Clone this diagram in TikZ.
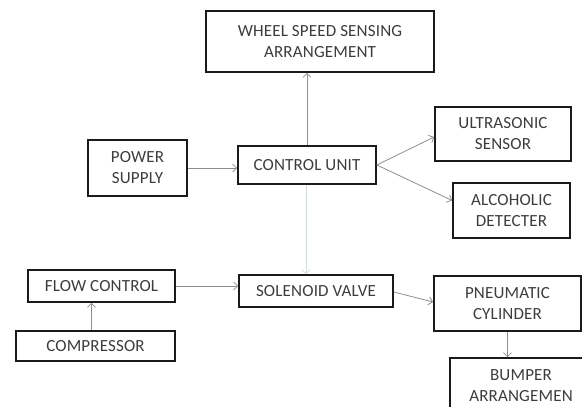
\documentclass[tikz,border=0pt]{standalone}
\usepackage{fontspec}
\setmainfont{Carlito}[LetterSpace=1]
\usetikzlibrary{arrows.meta}
\definecolor{txtc}{HTML}{3C3C3C}
\definecolor{boxc}{HTML}{1A1A1A}
\definecolor{linec}{HTML}{8E8E8E}
\definecolor{palec}{HTML}{CFDCDC}
\tikzset{
  blk/.style={draw=boxc, line width=1.7pt, rectangle, inner sep=0pt, align=center,
    text=txtc, font=\fontsize{17}{21}\selectfont},
  conn/.style={draw=linec, line width=0.8pt, -{Straight Barb[length=4pt,width=8pt]}},
}
\begin{document}
\begin{tikzpicture}[x=1pt,y=-1pt]
\useasboundingbox (0,0) rectangle (582,407);
\clip (0,0) rectangle (582,407);
\node[blk, minimum width=228pt, minimum height=61pt] (wheel) at (320,41.5) {WHEEL SPEED SENSING\\ARRANGEMENT};
\node[blk, minimum width=99pt, minimum height=56pt] (power) at (137.5,168) {POWER\\SUPPLY};
\node[blk, minimum width=138pt, minimum height=38pt] (control) at (307,165) {CONTROL UNIT};
\node[blk, minimum width=136pt, minimum height=54pt] (ultra) at (503,134) {ULTRASONIC\\SENSOR};
\node[blk, minimum width=117pt, minimum height=55pt] (alco) at (511.5,210.5) {ALCOHOLIC\\DETECTER};
\node[blk, minimum width=147pt, minimum height=32pt] (flow) at (101.5,286) {FLOW CONTROL};
\node[blk, minimum width=159pt, minimum height=30pt] (comp) at (95.5,346) {COMPRESSOR};
\node[blk, minimum width=154pt, minimum height=32pt] (sol) at (316,291) {SOLENOID VALVE};
\node[blk, minimum width=147pt, minimum height=55pt] (pneu) at (507.5,303.5) {PNEUMATIC\\CYLINDER};
\node[blk, minimum width=142pt, minimum height=56pt] (bump) at (521,386) {BUMPER\\ARRANGEMEN};

\draw[conn] (power.east) -- (control.west |- power.east);
\draw[conn] (control.north) -- (control.north |- wheel.south);
\draw[conn] (control.east) -- ([yshift=-3pt]ultra.west);
\draw[conn] (control.east) -- ([yshift=10pt]alco.west);
\draw[conn, draw=palec] ([xshift=-1pt]control.south) -- ([xshift=-1pt]control.south |- sol.north);
\draw[conn] (flow.east) -- (flow.east -| sol.west);
\draw[conn] ([xshift=-4pt]comp.north) -- ([xshift=-4pt]comp.north |- flow.south);
\draw[conn] ([yshift=-1pt]sol.east) -- ([yshift=1.5pt]pneu.west);
\draw[conn] (pneu.south) -- (pneu.south |- bump.north);
\end{tikzpicture}
\end{document}
